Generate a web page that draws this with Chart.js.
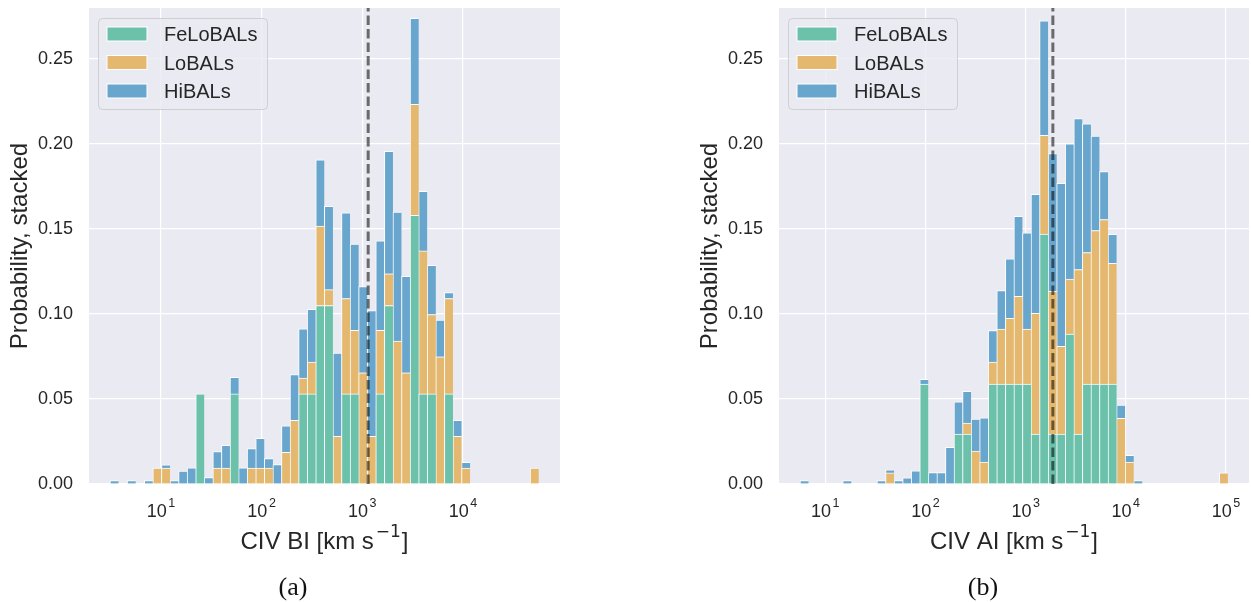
<!DOCTYPE html>
<html><head><meta charset="utf-8">
<script src="https://cdn.jsdelivr.net/npm/chart.js@4.4.1/dist/chart.umd.min.js"></script>
<style>
html,body{margin:0;padding:0;background:#fff;width:1251px;height:602px;overflow:hidden;}
#wa{position:absolute;left:0;top:0;width:690px;height:602px;}
#wb{position:absolute;left:690px;top:0;width:561px;height:602px;}
.cap{position:absolute;top:572px;line-height:30px;font-family:"Liberation Serif","DejaVu Serif",serif;font-size:26px;color:#111;transform:translateX(-50%);}
</style></head><body>
<div id="wa"><canvas id="ca" width="690" height="602"></canvas></div>
<div id="wb"><canvas id="cb" width="561" height="602"></canvas></div>
<div class="cap" style="left:293px">(a)</div>
<div class="cap" style="left:983px">(b)</div>
<script>
// ---- data (x = log10 of velocity in km/s, bin centres) ----
const seriesNames = ['FeLoBALs', 'LoBALs', 'HiBALs'];
const yTicks = [0, 0.05, 0.10, 0.15, 0.20, 0.25];
const xTicksBI = [1, 2, 3, 4];
const xTicksAI = [1, 2, 3, 4, 5];
const medianLogBI = 3.059;
const medianLogAI = 3.272;

const binsBI = [0.5362,0.6214,0.7066,0.7918,0.8770,0.9622,1.0474,1.1326,1.2178,1.3030,
  1.3882,1.4734,1.5586,1.6438,1.7290,1.8142,1.8994,1.9846,2.0698,2.1550,
  2.2402,2.3254,2.4106,2.4958,2.5810,2.6662,2.7514,2.8366,2.9218,3.0070,
  3.0922,3.1774,3.2626,3.3478,3.4330,3.5182,3.6034,3.6886,3.7738,3.8590,
  3.9442,4.0294,4.1146,4.1998,4.2850,4.3702,4.4554,4.5406,4.6258,4.7110];
const feloBI = [0,0,0,0,0, 0,0,0,0,0, .053,0,0,0,.053, 0,0,0,0,0,
  0,0,.053,.053,.105, .105,0,.053,.053,0, 0,.053,.105,0,0, .158,.053,.053,0,.053,
  0,0,0,0,0, 0,0,0,0,0];
const loBI = [0,0,0,0,0, .0093,.0093,0,0,0, 0,0,.0093,.0093,0, 0,.0093,.0093,.0093,0,
  .0187,.0374,.0093,.0187,.0467, .0093,.028,.0561,.0374,.0654, .028,.0374,.0187,.0841,.0654,
  .0654,.0841,.0467,.0748,.0561, .028,.0093,0,0,0, 0,0,0,0,.0093];
const hiBI = [.002,0,.002,0,.002, 0,.002,.002,.0076,.0095, 0,.0038,.0098,.0135,.0098,
  .0095,.0116,.0175,.0057,.0114, .0155,.027,.029,.031,.039, .049,.049,.0504,.0508,.0508,
  .074,.0527,.072,.0759,.0567, .0505,.035,.029,.0216,.0035, .0095,.0035,0,0,0, 0,0,0,0,0];

const binsAI = [0.7902,0.8756,0.9611,1.0465,1.1319,1.2174,1.3028,1.3882,1.4736,1.5591,
  1.6445,1.7299,1.8154,1.9008,1.9862,2.0717,2.1571,2.2425,2.3279,2.4134,
  2.4988,2.5842,2.6697,2.7551,2.8405,2.9260,3.0114,3.0968,3.1822,3.2677,
  3.3531,3.4385,3.5240,3.6094,3.6948,3.7803,3.8657,3.9511,4.0365,4.1220,
  4.2074,4.2928,4.3783,4.4637,4.5491,4.6346,4.7200,4.8054,4.8908,4.9763];
const feloAI = [0,0,0,0,0, 0,0,0,0,0, 0,0,0,0,.0588, 0,0,0,.0294,.0294,
  0,0,.0588,.0588,.0588, .0588,.0588,.0294,.147,.0294, .0294,.0882,.0294,.0588,.0588,
  .0588,.0588,0,0,0, 0,0,0,0,0, 0,0,0,0,0];
const loAI = [0,0,0,0,0, 0,0,0,0,0, .0065,0,0,0,0, 0,0,0,0,.0065,
  .0194,.0129,.0129,.0323,.0387, .0516,.0323,.071,.0581,.0839, .0516,.0323,.0968,.0774,.0903,
  .0968,.071,.0387,.0129,0, 0,0,0,0,0, 0,0,0,0,.0065];
const hiAI = [.002,0,0,0,0, .002,0,0,0,.002, .0019,.002,.0037,.0078,.0027,
  .0067,.0067,.0216,.019,.0186, .0188,.026,.0186,.0227,.035, .047,.0566,.07,.0674,.081,
  .0959,.0796,.0888,.0756,.0555, .0282,.0171,.0077,.004,.002, 0,0,0,0,0, 0,0,0,0,0];

// ---- styling ----
const COLORS = ['#6cc1ab', '#e4b96f', '#68a6ce'];
const FONT = '"Liberation Sans", Arial, sans-serif';
const TXT = '#262626';
Chart.defaults.font.family = FONT;

const deco = {
  id: 'deco',
  beforeDraw(chart) {
    const {ctx, chartArea: a} = chart;
    ctx.save();
    ctx.fillStyle = '#eaeaf2';
    ctx.fillRect(a.left, a.top, a.right - a.left, a.bottom - a.top);
    ctx.restore();
  },
  afterDatasetsDraw(chart, args, o) {
    const {ctx, chartArea: a} = chart;
    const px = chart.scales.x.getPixelForValue(o.median);
    ctx.save();
    ctx.strokeStyle = 'rgba(0,0,0,0.55)';
    ctx.lineWidth = 3;
    ctx.setLineDash([9.5, 4]);
    ctx.beginPath();
    ctx.moveTo(px, a.bottom);
    ctx.lineTo(px, a.top);
    ctx.stroke();
    ctx.restore();
  },
  afterDraw(chart, args, o) {
    const {ctx, chartArea: a} = chart;
    const xs = chart.scales.x;
    ctx.save();
    ctx.fillStyle = TXT;
    ctx.textBaseline = 'alphabetic';
    ctx.textAlign = 'left';
    // x tick labels 10^n
    for (const v of o.xTicks) {
      const px = xs.getPixelForValue(v);
      ctx.font = '18px ' + FONT;
      const w1 = ctx.measureText('10').width;
      ctx.font = '12.5px ' + FONT;
      const w2 = ctx.measureText(String(v)).width;
      const gap = 1.5;
      const s = px - (w1 + gap + w2) / 2;
      ctx.font = '18px ' + FONT;
      ctx.fillText('10', s, 517);
      ctx.font = '12.5px ' + FONT;
      ctx.fillText(String(v), s + w1 + gap, 507);
    }
    // x title with superscript
    const main = o.xTitle, sup = '\u22121', tail = ']';
    ctx.font = '24px ' + FONT;
    const wm = ctx.measureText(main).width, wt = ctx.measureText(tail).width;
    ctx.font = '17px "DejaVu Sans", ' + FONT;
    const ws = ctx.measureText(sup).width;
    const g1 = 2, g2 = 1;
    const cx = (a.left + a.right) / 2;
    let x0 = cx - (wm + g1 + ws + g2 + wt) / 2;
    ctx.font = '24px ' + FONT;
    ctx.fillText(main, x0, 549);
    ctx.font = '17px "DejaVu Sans", ' + FONT;
    ctx.fillText(sup, x0 + wm + g1, 537);
    ctx.font = '24px ' + FONT;
    ctx.fillText(tail, x0 + wm + g1 + ws + g2, 549);
    // legend
    const lx = a.left + 9, ly = a.top + 10, lw = 169, lh = 91;
    ctx.beginPath();
    ctx.roundRect(lx + 0.5, ly + 0.5, lw, lh, 4);
    ctx.fillStyle = 'rgba(234,234,242,0.8)';
    ctx.fill();
    ctx.strokeStyle = 'rgba(204,204,204,0.9)';
    ctx.lineWidth = 1;
    ctx.stroke();
    const rows = [ly + 16, ly + 44.5, ly + 73];
    ctx.font = '20px ' + FONT;
    for (let i = 0; i < 3; i++) {
      const cy = rows[i];
      ctx.fillStyle = '#ffffff';
      ctx.fillRect(lx + 8.5, cy - 7.5, 41, 15);
      ctx.fillStyle = COLORS[i];
      ctx.fillRect(lx + 9.5, cy - 6.5, 39, 13);
      ctx.fillStyle = TXT;
      ctx.fillText(seriesNames[i], lx + 66, cy + 7.2);
    }
    ctx.restore();
  }
};

function makeChart(id, bins, vals, xTicks, xmin, xmax, padRight, median, xTitle) {
  const datasets = vals.map((arr, i) => ({
    label: seriesNames[i],
    data: bins.map((b, j) => ({x: b, y: arr[j]})),
    backgroundColor: COLORS[i],
    borderColor: 'rgba(255,255,255,0.9)',
    borderWidth: {top: 1, left: 1, right: 0, bottom: 0},
    borderSkipped: false,
    barPercentage: 1,
    categoryPercentage: 1
  }));
  return new Chart(document.getElementById(id), {
    type: 'bar',
    data: {datasets},
    plugins: [deco],
    options: {
      responsive: false,
      animation: false,
      devicePixelRatio: 1,
      layout: {padding: {top: 8, right: padRight, left: 0, bottom: 0}},
      plugins: {
        legend: {display: false},
        tooltip: {enabled: false},
        deco: {median, xTicks, xTitle}
      },
      scales: {
        x: {
          type: 'linear', stacked: true, min: xmin, max: xmax, offset: false,
          afterBuildTicks: s => { s.ticks = xTicks.map(v => ({value: v})); },
          afterFit: s => { s.height = 118; s.paddingLeft = 0; s.paddingRight = 0; },
          grid: {color: '#ffffff', lineWidth: 1.2, drawTicks: false, offset: false},
          border: {display: false},
          ticks: {display: false}
        },
        y: {
          stacked: true, min: 0, max: 0.28,
          afterBuildTicks: s => { s.ticks = yTicks.map(v => ({value: v})); },
          afterFit: s => { s.width = 89; s.paddingTop = 0; s.paddingBottom = 0; },
          grid: {color: '#ffffff', lineWidth: 1.2, drawTicks: false},
          border: {display: false},
          ticks: {padding: 16, color: TXT, font: {size: 18}, callback: v => Number(v).toFixed(2)},
          title: {display: true, text: 'Probability, stacked', color: TXT, font: {size: 24}, padding: {top: 6, bottom: 0}}
        }
      }
    }
  });
}

makeChart('ca', binsBI, [feloBI, loBI, hiBI], xTicksBI, 0.285, 4.965, 130, medianLogBI, 'CIV BI [km s');
makeChart('cb', binsAI, [feloAI, loAI, hiAI], xTicksAI, 0.538, 5.23, 2, medianLogAI, 'CIV AI [km s');
</script>
</body></html>
